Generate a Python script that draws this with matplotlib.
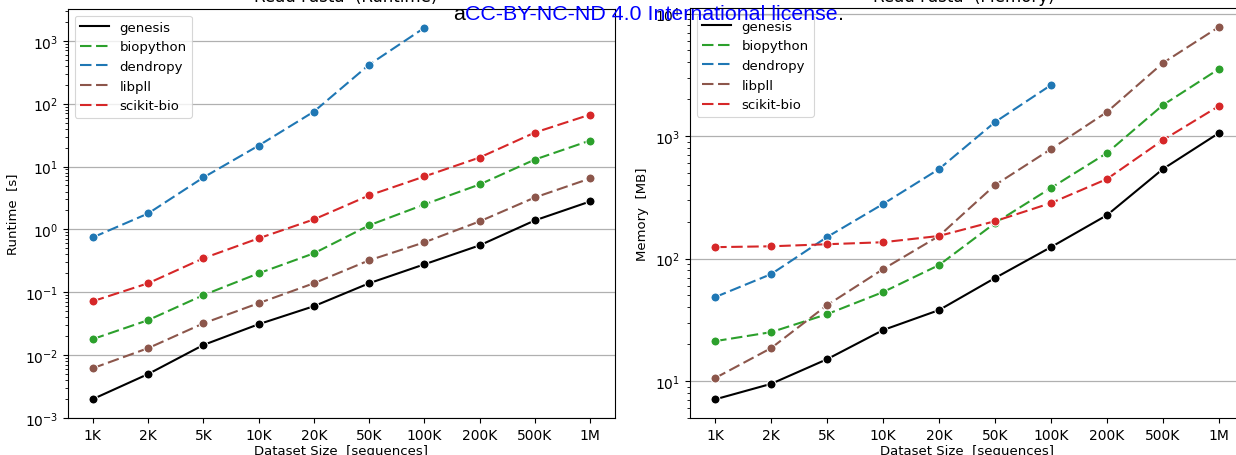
import numpy as np
import matplotlib
matplotlib.use("Agg")
import matplotlib.pyplot as plt
from matplotlib.lines import Line2D

sizes = ["1K", "2K", "5K", "10K", "20K", "50K", "100K", "200K", "500K", "1M"]
tools = ["genesis", "biopython", "dendropy", "libpll", "scikit-bio"]
colors = {"genesis": "black", "biopython": "tab:green", "dendropy": "tab:blue",
          "libpll": "tab:brown", "scikit-bio": "tab:red"}

runtime_genesis = [0.002, 0.005, 0.0145, 0.031, 0.06, 0.139, 0.278, 0.557, 1.39, 2.78]
runtime_biopython = [0.018, 0.036, 0.09, 0.2, 0.416, 1.16, 2.49, 5.18, 12.9, 25.9]
runtime_dendropy = [0.746, 1.79, 6.69, 21.5, 74.6, 416, 1607]
runtime_libpll = [0.0062, 0.0129, 0.032, 0.067, 0.139, 0.322, 0.622, 1.34, 3.22, 6.45]
runtime_scikitbio = [0.072, 0.139, 0.347, 0.72, 1.44, 3.47, 6.94, 13.9, 34.7, 66.9]

memory_genesis = [7.1, 9.5, 15.1, 26.1, 38, 69.4, 124, 226, 538, 1058]
memory_biopython = [21.2, 25.1, 35.2, 53.3, 88.5, 195, 377, 727, 1790, 3525]
memory_dendropy = [48.5, 74.7, 150, 279, 538, 1300, 2607]
memory_libpll = [10.6, 18.6, 41.7, 82, 153, 398, 783, 1571, 3946, 7762]
memory_scikitbio = [124, 126, 131, 136, 153, 202, 284, 446, 927, 1758]

runtime = {"genesis": runtime_genesis, "biopython": runtime_biopython,
           "dendropy": runtime_dendropy, "libpll": runtime_libpll,
           "scikit-bio": runtime_scikitbio}
memory = {"genesis": memory_genesis, "biopython": memory_biopython,
          "dendropy": memory_dendropy, "libpll": memory_libpll,
          "scikit-bio": memory_scikitbio}

W, H = 1236, 456
fig = plt.figure(figsize=(W / 100, H / 100), dpi=100)

axL = fig.add_axes([68 / W, (H - 419) / H, (615 - 68) / W, (419 - 10) / H])
axR = fig.add_axes([690 / W, (H - 419) / H, (1244 - 690) / W, (419 - 9) / H])

DASH = (0, (5.5, 2.2))


def draw(ax, data, ylim, ylabel):
    handles = []
    for t in tools:
        vals = data[t]
        x = np.arange(len(vals))
        ls = "-" if t == "genesis" else DASH
        ax.plot(x, vals, color=colors[t], linestyle=ls, linewidth=1.5,
                marker="o", markersize=6.5, markeredgecolor="white",
                markeredgewidth=0.75)
        handles.append(Line2D([], [], color=colors[t], linestyle=ls,
                              linewidth=1.5, label=t))
    ax.set_yscale("log")
    ax.set_ylim(*ylim)
    ax.set_xlim(-0.45, len(sizes) - 1 + 0.45)
    ax.set_xticks(np.arange(len(sizes)))
    ax.set_xticklabels(sizes)
    ax.tick_params(labelsize=10)
    ax.yaxis.grid(True, which="major", color="#b0b0b0", linewidth=0.9)
    ax.set_axisbelow(True)
    ax.set_xlabel("Dataset Size  [sequences]", fontsize=9.5, labelpad=2)
    ax.set_ylabel(ylabel, fontsize=9.5)
    leg = ax.legend(handles=handles, loc="upper left", fontsize=9.5,
                    handlelength=2.2)
    leg.get_frame().set_linewidth(0.8)


draw(axL, runtime, (1e-3, 3.2e3), "Runtime  [s]")
draw(axR, memory, (5.0, 1.11e4), "Memory  [MB]")

# partially cropped titles from the original page
fig.text(254 / W, 1 - 1.5 / H, "Read Fasta  (Runtime)", fontsize=12,
         ha="left", va="baseline")
fig.text(873 / W, 1 - 1.5 / H, "Read Fasta  (Memory)", fontsize=12,
         ha="left", va="baseline")

# license overlay
fig.canvas.draw()
r = fig.canvas.get_renderer()
x0 = 453 / W
yb = 1 - 20 / H
fs = 15.4
t1 = fig.text(x0, yb, "a", fontsize=fs, family="Liberation Sans", color="black",
              va="baseline")
bb = t1.get_window_extent(r)
t2 = fig.text(bb.x1 / W, yb, "CC-BY-NC-ND 4.0 International license",
              fontsize=fs, family="Liberation Sans", color="blue", va="baseline")
bb2 = t2.get_window_extent(r)
fig.text(bb2.x1 / W, yb, ".", fontsize=fs, family="Liberation Sans",
         color="black", va="baseline")

fig.savefig("out.png", dpi=100)
